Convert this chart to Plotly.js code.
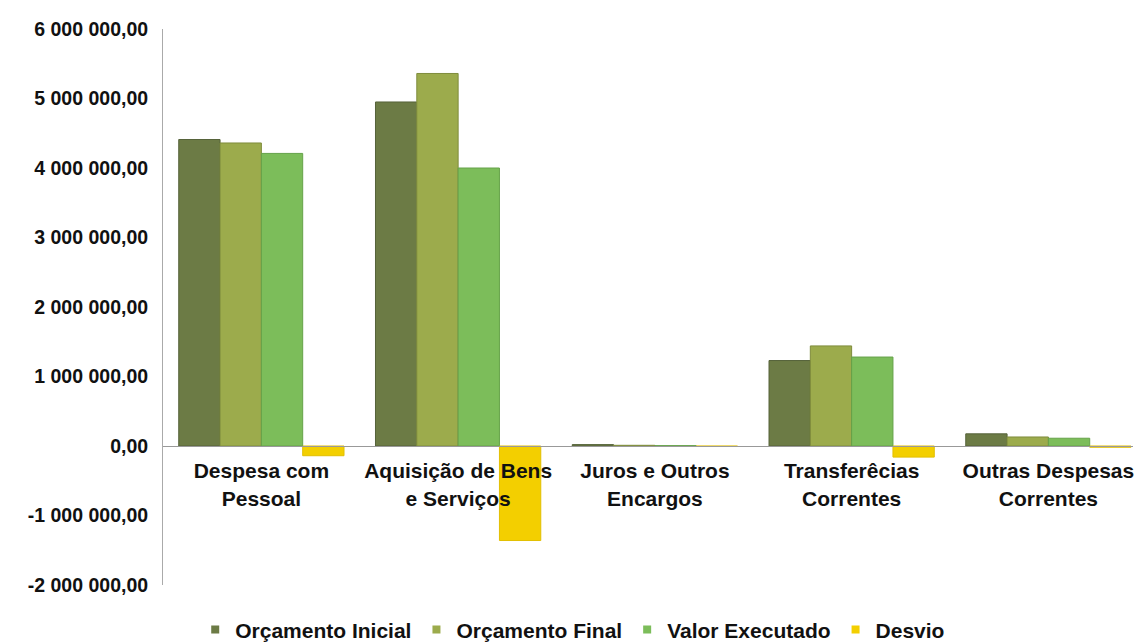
<!DOCTYPE html>
<html><head><meta charset="utf-8">
<script src="https://cdn.plot.ly/plotly-3.0.1.min.js"></script>
<style>body{margin:0;background:#fff}#c{width:1135px;height:644px}</style>
</head><body><div id="c"></div>
<script>
const categories = ["Despesa com<br>Pessoal", "Aquisição de Bens<br>e Serviços", "Juros e Outros<br>Encargos", "Transferêcias<br>Correntes", "Outras Despesas<br>Correntes"];
const orcamentoInicial = [4410000, 4950000, 20000, 1230000, 175000];
const orcamentoFinal = [4360000, 5360000, 10000, 1440000, 130000];
const valorExecutado = [4210000, 4000000, 5000, 1280000, 112000];
const desvio = [-140000, -1360000, -5000, -160000, -18000];
const seriesNames = ["Orçamento Inicial", "Orçamento Final", "Valor Executado", "Desvio"];
const yTickValues = [-2000000, -1000000, 0, 1000000, 2000000, 3000000, 4000000, 5000000, 6000000];
const yTickLabels = ["-2 000 000,00", "-1 000 000,00", "0,00", "1 000 000,00", "2 000 000,00", "3 000 000,00", "4 000 000,00", "5 000 000,00", "6 000 000,00"];
const colors = ["#6c7b45", "#9cab4c", "#7cbd5a", "#f3cf00"];
const borders = ["#56633a", "#7f8c3c", "#65a249", "#e2bf00"];
const vals = [orcamentoInicial, orcamentoFinal, valorExecutado, desvio];
const traces = vals.map((v, i) => ({
  type: "bar", x: categories, y: v, name: seriesNames[i], legendgroup: "g" + i, showlegend: false,
  marker: {color: colors[i], line: {color: borders[i], width: 1}}
}));
// legend entries with small square keys
seriesNames.forEach((n, i) => traces.push({
  type: "scatter", mode: "markers", x: [categories[0]], y: [null], name: n, legendgroup: "g" + i,
  marker: {symbol: "square", size: 8, color: colors[i]}, showlegend: true
}));
const f = "Arial, 'Liberation Sans', sans-serif";
Plotly.newPlot("c", traces, {
  width: 1135, height: 644,
  margin: {l: 163, r: 2, t: 29, b: 59},
  paper_bgcolor: "#fff", plot_bgcolor: "#fff",
  barmode: "group", bargap: 0.16, bargroupgap: 0,
  showlegend: true,
  legend: {orientation: "h", xref: "container", yref: "container", x: 0.172, xanchor: "left", y: 0.022, yanchor: "middle",
    font: {family: f, size: 21, color: "#111", weight: "bold"}, itemwidth: 30, tracegroupgap: 0},
  xaxis: {anchor: "free", position: 0.25, range: [-0.5, 4.43], showline: true, linecolor: "#999", linewidth: 1,
    ticks: "", ticklabelstandoff: 6, tickfont: {family: f, size: 21, color: "#111", weight: "bold"}, showgrid: false},
  yaxis: {range: [-2000000, 6000000], tickmode: "array", tickvals: yTickValues, ticktext: yTickLabels,
    showline: true, linecolor: "#aaa", linewidth: 1, showgrid: false, zeroline: false,
    ticks: "", ticklabelstandoff: 10, tickfont: {family: f, size: 19.5, color: "#111", weight: "bold"}}
}, {displayModeBar: false, staticPlot: true});
</script></body></html>
